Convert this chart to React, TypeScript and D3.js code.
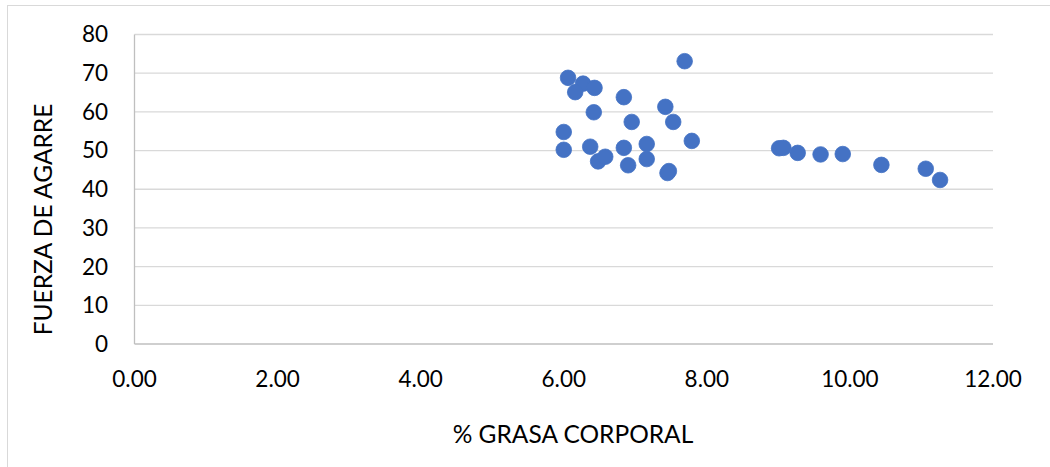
import React from "react";
import * as d3 from "d3";

const grasa = [
  6.06, 6.27, 6.16, 6.43, 6.84, 7.69, 7.42, 6.42, 6.95, 7.53, 6.0, 7.79, 6.0, 6.37, 6.84, 7.16,
  6.48, 6.58, 6.9, 7.16, 7.47, 7.45, 9.01, 9.07, 9.27, 9.59, 9.9, 10.44, 11.06, 11.26,
];
const fuerza = [
  68.8, 67.3, 65.1, 66.2, 63.8, 73.1, 61.3, 59.9, 57.4, 57.4, 54.8, 52.5, 50.2, 51.0, 50.7, 51.7,
  47.2, 48.4, 46.2, 47.8, 44.7, 44.2, 50.6, 50.7, 49.4, 49.0, 49.1, 46.3, 45.3, 42.4,
];
const xTicks = [0, 2, 4, 6, 8, 10, 12];
const yTicks = [0, 10, 20, 30, 40, 50, 60, 70, 80];
const xTitle = "% GRASA CORPORAL";
const yTitle = "FUERZA DE AGARRE";

export default function App() {
  const W = 1050;
  const H = 467;
  const x = d3.scaleLinear().domain([0, 12]).range([134.5, 993]);
  const y = d3.scaleLinear().domain([0, 80]).range([344, 34.5]);
  const font = "Lato, 'Open Sans', sans-serif";
  const pts = grasa.map((g, i) => [g, fuerza[i]]);
  return (
    <svg
      width={W}
      height={H}
      style={{ position: "absolute", left: 0, top: 0, background: "#fff" }}
      fontFamily={font}
    >
      <rect x={7.5} y={5.5} width={1100} height={500} fill="#fff" stroke="#d9d9d9" strokeWidth={1} />
      {yTicks.map((t) => (
        <line
          key={"g" + t}
          x1={x(0)}
          x2={x(12)}
          y1={y(t)}
          y2={y(t)}
          stroke={t === 0 ? "#bfbfbf" : "#d9d9d9"}
          strokeWidth={1.3}
        />
      ))}
      <line x1={x(0)} x2={x(0)} y1={y(0)} y2={y(80)} stroke="#bfbfbf" strokeWidth={1.3} />
      {yTicks.map((t) => (
        <text key={"y" + t} x={108} y={y(t)} dy="0.35em" textAnchor="end" fontSize={22.5} fill="#000">
          {t}
        </text>
      ))}
      {xTicks.map((t) => (
        <text key={"x" + t} x={x(t)} y={387} textAnchor="middle" fontSize={22.5} fill="#000">
          {d3.format(".2f")(t)}
        </text>
      ))}
      <text x={573} y={443} textAnchor="middle" fontSize={24.5} fill="#000">
        {xTitle}
      </text>
      <text
        transform={`translate(52,219.5) rotate(-90)`}
        textAnchor="middle"
        fontSize={24.5}
        fill="#000"
      >
        {yTitle}
      </text>
      {pts.map(([g, f], i) => (
        <circle key={i} cx={x(g)} cy={y(f)} r={7.8} fill="#4472C4" stroke="#4472C4" strokeWidth={0.8} />
      ))}
    </svg>
  );
}
